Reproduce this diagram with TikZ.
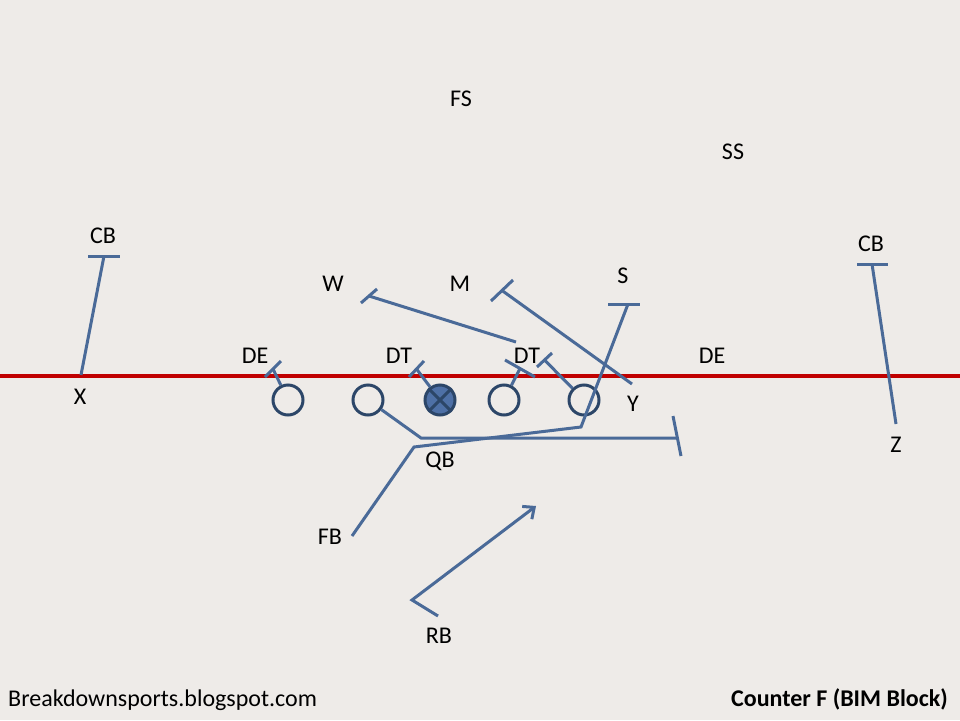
\documentclass[tikz,border=0pt]{standalone}
\usepackage{fontspec}
\setmainfont{Carlito}
\usetikzlibrary{arrows.meta}
\definecolor{bg}{HTML}{EEEBE8}
\definecolor{ln}{HTML}{4A6A98}
\definecolor{dk}{HTML}{2C4668}
\definecolor{fl}{HTML}{4E70A6}
\definecolor{rd}{HTML}{C00000}
\begin{document}
\begin{tikzpicture}[x=1pt,y=-1pt,
  route/.style={draw=ln,line width=3pt},
  lbl/.style={font=\fontsize{24}{28}\selectfont,inner sep=0pt,text=black},
  pl/.style={circle,draw=dk,line width=3pt,minimum size=30pt,inner sep=0pt},
  runarrow/.style={route,-{Straight Barb[length=9pt,width=16pt,line width=3pt]}}]
\useasboundingbox (0,0) rectangle (960,720);
\fill[bg] (0,0) rectangle (960,720);
% line of scrimmage
\coordinate (losL) at (0,376);
\coordinate (losR) at (960,376);
\draw[rd,line width=3.5pt] (losL) -- (losR);
% labels
\node[lbl] (fs) at (461,99) {FS};
\node[lbl] (ss) at (733,152) {SS};
\node[lbl] (cbl) at (103,236) {CB};
\node[lbl] (cbr) at (871,244) {CB};
\node[lbl] (w) at (333,284) {W};
\node[lbl] (m) at (460,284) {M};
\node[lbl] (s) at (623,276) {S};
\node[lbl] (de1) at (255,356) {DE};
\node[lbl] (dt1) at (399,356) {DT};
\node[lbl] (dt2) at (527,356) {DT};
\node[lbl] (de2) at (712,356) {DE};
\node[lbl] (x) at (80,397) {X};
\node[lbl] (y) at (633,404) {Y};
\node[lbl] (z) at (896,445) {Z};
\node[lbl] (qb) at (440,461) {QB};
\node[lbl] (fb) at (330,537) {FB};
\node[lbl] (rb) at (439,636) {RB};
\node[lbl,anchor=base west] (site) at (8,706) {Breakdownsports.blogspot.com};
\node[lbl,anchor=base east,font=\fontsize{24}{28}\selectfont\bfseries] (title) at (948,706) {Counter F (BIM Block)};
% offensive line
\node[pl] (c1) at (288,400) {};
\node[pl] (c2) at (368,400) {};
\node[pl,fill=fl] (c3) at (440,400) {};
\draw[dk,line width=3pt] (c3.north west) -- (c3.south east) (c3.north east) -- (c3.south west);
\node[pl] (c4) at (504,400) {};
\node[pl] (c5) at (584,400) {};
% corners
\coordinate (cbla) at (88,256);
\coordinate (cblb) at (120,256);
\coordinate (cblm) at (104,256);
\coordinate (xs) at (81,375);
\draw[route] (cbla) -- (cblb);
\draw[route] (xs) -- (cblm);
\coordinate (cbra) at (857,264);
\coordinate (cbrb) at (888,264);
\coordinate (cbrm) at (872,264);
\coordinate (zs) at (896,424);
\draw[route] (cbra) -- (cbrb);
\draw[route] (zs) -- (cbrm);
% line blocks
\coordinate (b1a) at (265,377); \coordinate (b1b) at (281,361); \coordinate (b1m) at (273,369);
\draw[route] (b1a) -- (b1b);
\draw[route] (c1) -- (b1m);
\coordinate (b3a) at (409,377); \coordinate (b3b) at (424,361); \coordinate (b3m) at (416.5,369);
\draw[route] (b3a) -- (b3b);
\draw[route] (c3) -- (b3m);
\coordinate (b4a) at (505,360); \coordinate (b4b) at (535,377); \coordinate (b4m) at (520,368.5);
\draw[route] (b4a) -- (b4b);
\draw[route] (c4) -- (b4m);
\coordinate (b5a) at (537,367); \coordinate (b5b) at (552,353); \coordinate (b5m) at (544.5,360);
\draw[route] (b5a) -- (b5b);
\draw[route] (c5) -- (b5m);
% W block
\coordinate (wa) at (361,303); \coordinate (wb) at (377,289); \coordinate (wm) at (369,296);
\coordinate (ws) at (516,342);
\draw[route] (wa) -- (wb);
\draw[route] (ws) -- (wm);
% M block (Y)
\coordinate (ma) at (491,301); \coordinate (mb) at (513,280); \coordinate (mm) at (502,290.5);
\coordinate (ys) at (632,384);
\draw[route] (ma) -- (mb);
\draw[route] (ys) -- (mm);
% guard pull kick-out
\coordinate (g1) at (421,438);
\coordinate (gm) at (677,438);
\coordinate (ga) at (673,416); \coordinate (gb) at (681,456);
\draw[route] (c2) -- (g1) -- (gm);
\draw[route] (ga) -- (gb);
% FB lead to S
\coordinate (fbs) at (352,536);
\coordinate (fb1) at (414,447);
\coordinate (fb2) at (581,427);
\coordinate (sm) at (628,304);
\coordinate (sa) at (608,304); \coordinate (sb) at (640,304);
\draw[route,line join=miter] (fbs) -- (fb1) -- (fb2) -- (sm);
\draw[route] (sa) -- (sb);
% RB counter
\coordinate (rbs) at (438,616);
\coordinate (rb1) at (412,600);
\coordinate (rbe) at (536,506);
\draw[runarrow] (rbs) -- (rb1) -- (rbe);
\end{tikzpicture}
\end{document}
